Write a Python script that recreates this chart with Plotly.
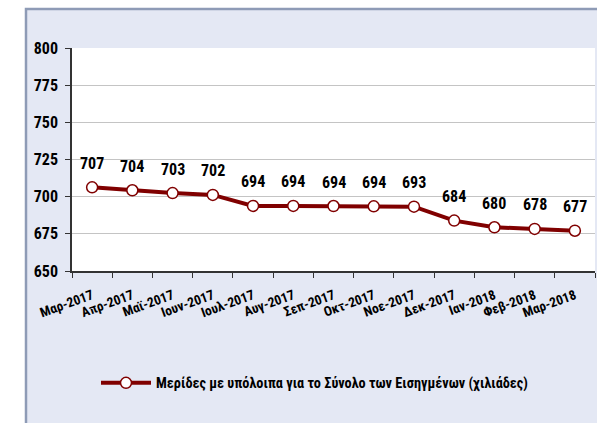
import plotly.graph_objects as go

months = ["Μαρ-2017", "Απρ-2017", "Μαϊ-2017", "Ιουν-2017", "Ιουλ-2017", "Αυγ-2017",
          "Σεπ-2017", "Οκτ-2017", "Νοε-2017", "Δεκ-2017", "Ιαν-2018", "Φεβ-2018", "Μαρ-2018"]
values = [706.3, 704.3, 702.4, 701.2, 693.8, 693.8, 693.7, 693.5, 693.3, 683.9, 679.4, 678.3, 677.1]
labels = ["707", "704", "703", "702", "694", "694", "694", "694", "693", "684", "680", "678", "677"]
series_name = "Μερίδες με υπόλοιπα για το Σύνολο των Εισηγμένων (χιλιάδες)"
y_ticks = [650, 675, 700, 725, 750, 775, 800]

FONT = "Roboto Condensed, Open Sans Condensed, DejaVu Sans Condensed, sans-serif"
RED = "#800000"

W, H = 597, 423
ML, MR, MT, MB = 72, 2, 48, 152
pw, ph = W - ML - MR, H - MT - MB

def px_x(p):
    return (p - ML) / pw

def px_y(p):
    return (H - MB - p) / ph

fig = go.Figure()
fig.add_trace(go.Scatter(
    x=months, y=values, mode="lines+markers", name=series_name,
    line=dict(color=RED, width=4),
    marker=dict(size=11, color="white", line=dict(color=RED, width=1.5)),
))

annotations = []
for m, v, t in zip(months, values, labels):
    annotations.append(dict(x=m, y=v, text="<b>%s</b>" % t, showarrow=False,
                            yshift=24, font=dict(family=FONT, size=16, color="black")))

shapes = [
    dict(type="rect", xref="paper", yref="paper", layer="below",
         x0=px_x(26), x1=px_x(603), y0=px_y(430), y1=px_y(9),
         fillcolor="#E4E8F4", line=dict(color="#8E9BB6", width=2.5)),
    dict(type="rect", xref="paper", yref="paper", layer="below",
         x0=0, x1=1, y0=0, y1=1, fillcolor="white", line=dict(width=0)),
]

fig.update_layout(
    width=W, height=H,
    margin=dict(l=ML, r=MR, t=MT, b=MB),
    paper_bgcolor="white", plot_bgcolor="rgba(0,0,0,0)",
    font=dict(family=FONT, color="black"),
    showlegend=True,
    legend=dict(orientation="h", x=px_x(96), y=px_y(383), xanchor="left", yanchor="middle",
                bgcolor="rgba(0,0,0,0)", itemwidth=50,
                font=dict(family=FONT, size=14.3, color="black", weight="bold")),
    annotations=annotations, shapes=shapes,
)
fig.update_xaxes(
    type="category", range=[-0.5, len(months) - 0.5],
    tickson="boundaries", ticks="outside", ticklen=5, tickcolor="#333333",
    showline=True, linecolor="#333333", linewidth=1.5, showgrid=False, automargin=False,
    tickangle=-20, ticklabelstandoff=10,
    tickfont=dict(family=FONT, size=13.5, color="black", weight="bold"),
)
fig.update_yaxes(
    range=[650, 800], tickmode="array", tickvals=y_ticks, automargin=False,
    ticks="outside", ticklen=5, tickcolor="#333333", ticklabelstandoff=4,
    showline=True, linecolor="#333333", linewidth=1.5,
    showgrid=True, gridcolor="#C4C4C4", gridwidth=1, zeroline=False,
    tickfont=dict(family=FONT, size=16, color="black", weight="bold"),
)

fig.write_html("out.html", post_script="document.body.style.margin='0';",
               config={"displayModeBar": False})
